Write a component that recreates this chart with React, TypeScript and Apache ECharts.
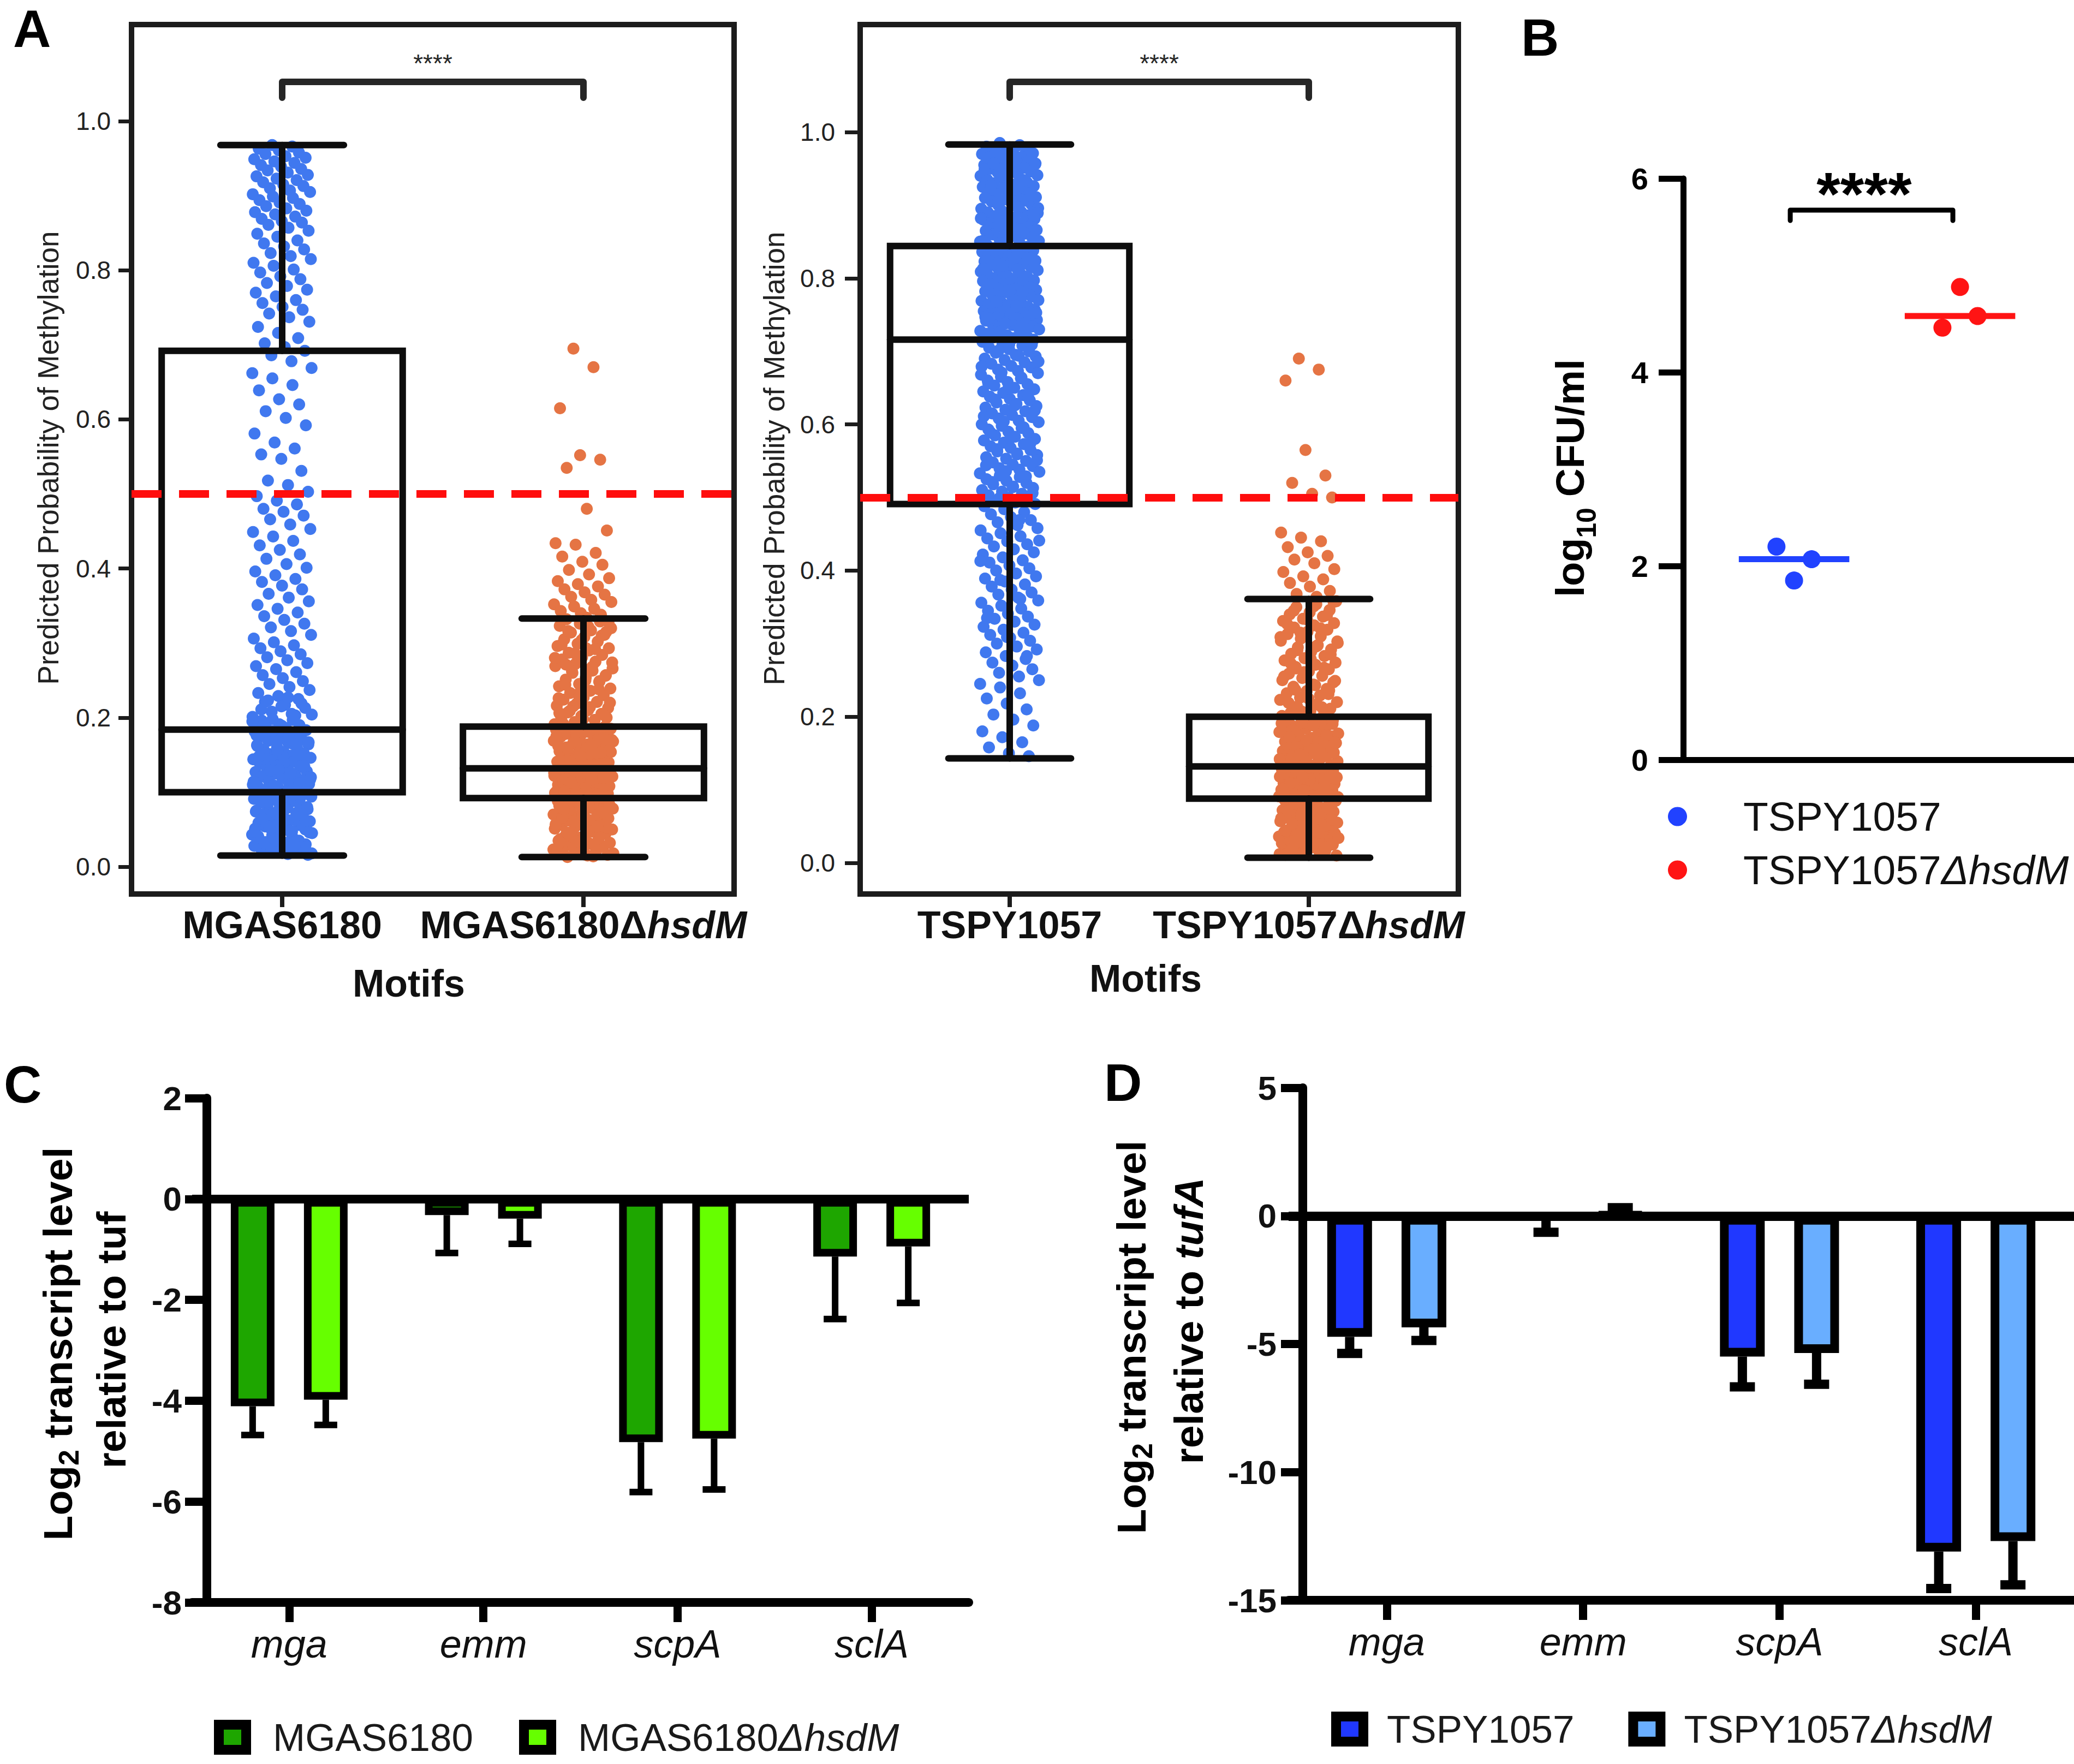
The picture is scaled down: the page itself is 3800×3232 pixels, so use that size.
import React, { useEffect, useRef } from "react";
import * as echarts from "echarts";

// ================= DATA =================
// ---- Panel A : predicted probability of methylation ----
const motifsMGAS = ["MGAS6180", "MGAS6180ΔhsdM"];
const motifsTSPY = ["TSPY1057", "TSPY1057ΔhsdM"];
const probTicks = [0, 0.2, 0.4, 0.6, 0.8, 1.0];
const methylThreshold = 0.5;
const sigA = "****";
// box statistics per motif: [lower whisker, Q1, median, Q3, upper whisker]
const boxMGAS = [
  [0.015, 0.1, 0.184, 0.692, 0.968],
  [0.013, 0.092, 0.132, 0.188, 0.333],
];
const boxTSPY = [
  [0.143, 0.491, 0.716, 0.844, 0.983],
  [0.007, 0.088, 0.132, 0.2, 0.361],
];
// individual motif probabilities, in thousandths
const probMGAS6180 = [
  968, 966, 963, 961, 958, 956, 953, 951, 949, 946, 944, 941, 939, 936, 934, 931, 928, 926, 923, 921, 918, 915, 913, 910, 907, 905, 902, 899, 897, 894, 891, 889, 886, 883, 880, 878, 875, 872, 869, 866, 864, 861,
  857, 853, 849, 845, 840, 836, 832, 828, 823, 819, 815, 810, 806, 801, 797, 792, 788, 783, 779, 774, 770, 765, 760, 756, 751, 747, 742, 737,
  731, 724, 716, 709, 702, 697, 692, 686, 678, 669, 662, 655, 646, 639, 627, 620, 611, 602, 592, 581, 569, 561, 553, 547, 531, 518, 512, 503,
  497, 491, 486, 480, 476, 471, 466, 459, 453, 449, 443, 437, 431, 425, 419, 413, 406, 401, 396, 391, 386,
  382, 377, 372, 366, 361, 356, 351, 346, 341, 336, 331, 326, 321, 316, 311, 306, 301, 297, 293, 289, 285, 281, 277, 273, 269, 265, 261, 257, 253, 249, 245, 241, 237, 233, 229, 225, 221, 217, 213,
  208, 205, 204, 201, 198, 197, 193, 191, 190, 187, 186, 183, 181, 178, 177, 175, 172, 171, 169, 166, 164, 163, 160, 158, 157, 154, 152, 151, 149, 146, 144, 143, 141, 138, 137, 134, 133, 131, 128, 127, 125, 122, 121, 119, 116, 115, 113, 111, 108, 107, 104, 103, 101, 99, 97, 95, 94, 91, 90, 88, 86, 84, 82, 81, 79, 77, 75, 73, 72, 70, 68, 66, 65, 62, 61, 59, 57, 56, 54, 52, 50, 49, 47, 45, 43, 42, 40, 38, 37, 35, 33, 32, 30, 28, 27, 25, 24, 22, 21, 19, 17, 16,
  176, 168, 161, 153, 147, 139, 132, 124, 117, 110, 102, 96, 89, 83, 76, 69, 63, 58, 51, 44,
  203, 196, 189, 184, 179, 174, 167, 162, 156, 150, 145, 140, 135, 129, 126, 120, 114, 109, 105, 100, 98, 93, 87, 85, 80, 74, 71, 67, 64, 60, 55, 53, 48, 46, 41, 39, 34, 31, 29, 26, 23, 20, 18, 195, 182, 165, 148, 130, 112, 92, 78, 62, 47, 36, 29, 211, 215, 219, 223, 227,
];
const probMGAS6180hsdM = [
  695, 670, 615, 552, 546, 535, 480, 451, 434, 432, 421, 416, 409, 405, 398, 392, 387, 383, 379, 376, 372, 368, 365, 362, 358, 355, 352, 349, 346, 343, 340, 338,
  13, 15, 16, 19, 20, 22, 24, 25, 27, 30, 31, 32, 35, 36, 38, 41, 42, 44, 45, 47, 50, 51, 53, 55, 56, 58, 60, 62, 63, 65, 67, 68, 71, 72, 74, 75, 77, 79, 80, 82, 83, 85, 86, 87, 88, 89, 84, 78, 70, 59, 48, 37,
  90, 92, 93, 95, 96, 97, 99, 100, 102, 103, 104, 106, 107, 108, 110, 111, 113, 114, 115, 117, 118, 119, 121, 122, 124, 125, 126, 128, 129, 91, 94, 98, 101, 105, 109, 112, 116, 120, 123, 127, 130, 96, 103, 111, 118, 125, 92, 107, 114, 121, 99, 128,
  131, 132, 134, 135, 137, 138, 140, 141, 143, 144, 146, 147, 149, 150, 152, 154, 155, 157, 158, 160, 161, 163, 165, 166, 168, 169, 171, 173, 174, 176, 177, 179, 181, 182, 184, 186, 187, 189, 133, 139, 145, 151, 156, 162, 167, 172, 178, 183, 188, 136, 153, 170,
  191, 194, 197, 199, 202, 205, 207, 210, 213, 216, 219, 221, 224, 227, 230, 233, 236, 239, 242, 245, 248, 251, 254, 257, 260, 263, 266, 269, 272, 275, 278, 281, 284, 287, 290, 293, 296, 299, 302, 305, 308, 311, 314, 317, 320, 323, 326, 329, 332, 334, 200, 215,
  14, 18, 23, 26, 29, 33, 39, 43, 46, 49, 52, 57, 61, 64, 66, 69, 73, 76, 81, 84, 88, 94, 97, 101, 105, 109, 113, 117, 121, 126, 131, 136, 142, 148, 153, 159, 164, 170, 175, 180, 185, 192, 198, 204, 209, 214, 220, 226, 232, 238, 244, 250, 256, 262, 268, 274, 280, 286, 292, 298, 304, 310, 316, 322, 328, 21, 34, 54, 77, 98, 119, 141, 163, 185, 206, 228, 249, 271, 293, 315,
];
const probTSPY1057 = [
  985, 982, 980, 978, 977, 975, 973, 971, 970, 968, 966, 965, 963, 961, 960, 958, 956, 955, 953, 951, 950, 948, 946, 945, 943, 941, 940, 938, 936, 935, 933, 931, 930, 928, 926, 925, 923, 921, 920, 918, 916, 915, 913, 911, 910, 908, 906, 905, 903, 901, 900, 898, 896, 895, 893, 891, 890, 888, 886, 885, 883, 881, 880, 878, 876, 875, 873, 871, 870, 868, 866, 865, 863, 861, 860, 858, 856, 855, 853, 851, 850, 848, 847, 846,
  844, 842, 841, 839, 838, 836, 835, 833, 832, 830, 829, 827, 826, 824, 823, 821, 820, 818, 817, 815, 814, 812, 811, 809, 808, 806, 805, 803, 802, 800, 799, 797, 796, 794, 793, 791, 790, 788, 787, 785, 784, 782, 781, 779, 778, 776, 775, 773, 772, 770, 769, 767, 766, 764, 763, 761, 760, 758, 757, 755, 754, 752, 751, 749, 748, 746, 745, 743, 742, 740, 739, 737, 736, 734, 733, 731, 730, 728, 727, 725, 724, 722, 721, 719, 718, 716,
  713, 710, 708, 705, 703, 700, 698, 695, 693, 690, 688, 685, 683, 680, 678, 675, 673, 670, 668, 665, 663, 660, 658, 655, 653, 650, 648, 645, 643, 640, 638, 635, 633, 630, 628, 625, 623, 620, 618, 615, 613, 610, 608, 605, 603, 600, 598, 595, 593, 590, 588, 585, 583, 580, 578, 575, 573, 570, 568, 565, 563, 560, 558, 555, 553, 550, 548, 545, 543, 540, 538, 535, 533, 530, 528, 525, 523, 520, 518, 515, 513, 510, 508, 505, 503, 500, 498, 495, 493, 491,
  488, 484, 480, 477, 473, 469, 466, 462, 458, 455, 451, 447, 444, 440, 436, 433, 429, 425, 422, 418, 414, 411, 407, 403, 400, 396, 392, 389, 385, 381, 378, 374, 370, 367, 363, 359, 356, 352, 348, 345, 341, 337, 334, 330, 326, 323, 319, 315, 312, 308, 304, 300, 296, 292, 288, 283, 279, 274, 270, 265, 260, 255, 250, 245, 240, 232, 225, 218, 210, 203, 196, 188, 180, 172, 165, 158, 150, 146,
  972, 964, 957, 949, 942, 934, 927, 919, 912, 904, 897, 889, 882, 874, 867, 859, 852, 843, 837, 828, 822, 813, 807, 798, 792, 783, 777, 768, 762, 753, 747, 738, 732, 723, 717, 709, 701, 694, 686, 679, 671, 664, 656, 649, 641, 634, 626, 619, 611, 604, 596, 589, 581, 574, 566, 559, 551, 544, 536, 529, 521, 514, 506, 499, 469, 441, 413, 387, 361, 335, 309, 283, 957, 921, 886, 851, 817, 781, 745, 709,
];
const probTSPY1057hsdM = [
  690, 675, 660, 565, 530, 520, 505, 500, 452, 445, 440, 432, 425, 420, 415, 410, 402, 398, 392, 388, 383, 378, 372, 368, 364,
  10, 12, 13, 15, 17, 18, 20, 22, 23, 25, 27, 28, 30, 32, 33, 35, 37, 38, 40, 42, 43, 45, 47, 48, 50, 52, 53, 55, 57, 58, 60, 62, 63, 65, 67, 68, 70, 72, 73, 75, 77, 78, 80, 82, 83, 85, 86, 87, 24, 46, 64, 79,
  88, 89, 90, 91, 92, 93, 94, 95, 96, 97, 98, 99, 100, 101, 102, 103, 104, 105, 106, 107, 108, 109, 110, 111, 112, 113, 114, 115, 116, 117, 118, 119, 120, 121, 122, 123, 124, 125, 126, 127, 128, 129, 130, 131, 93, 100, 108, 115, 122, 96, 111, 126,
  133, 134, 136, 137, 139, 140, 141, 143, 144, 146, 147, 149, 150, 151, 153, 154, 156, 157, 159, 160, 161, 163, 164, 166, 167, 169, 170, 171, 173, 174, 176, 177, 179, 180, 181, 183, 184, 186, 187, 189, 190, 191, 193, 194, 196, 197, 199, 138, 152, 165, 178, 192,
  202, 205, 208, 211, 214, 217, 220, 223, 226, 229, 232, 235, 238, 241, 244, 247, 250, 253, 256, 259, 262, 265, 268, 271, 274, 277, 280, 283, 286, 289, 292, 295, 298, 301, 304, 307, 310, 313, 316, 319, 322, 325, 328, 331, 334, 337, 340, 343, 346, 350, 354, 358,
  11, 14, 16, 19, 21, 26, 29, 31, 34, 36, 39, 41, 44, 49, 51, 54, 56, 59, 61, 66, 69, 71, 74, 76, 81, 84, 89, 94, 99, 104, 109, 114, 119, 124, 129, 135, 142, 148, 155, 162, 168, 175, 182, 188, 195, 201, 207, 213, 219, 225, 231, 237, 243, 249, 255, 261, 267, 273, 279, 285, 291, 297, 303, 309, 315, 321, 327, 333, 339, 345, 351, 357, 101, 117, 145, 172, 206, 236, 266, 296,
];

// ---- Panel B : log10 CFU/ml ----
const strainsB = ["TSPY1057", "TSPY1057ΔhsdM"];
const cfuTSPY1057 = [2.2, 2.07, 1.85];
const cfuTSPY1057hsdM = [4.88, 4.58, 4.46];
const sigB = "****";

// ---- Panel C : MGAS6180 transcripts ----
const genes = ["mga", "emm", "scpA", "sclA"];
const mgasWT = [-4.11, -0.32, -4.82, -1.14];
const mgasWTerr = [0.57, 0.75, 0.99, 1.24];
const mgasMut = [-3.98, -0.39, -4.75, -0.94];
const mgasMutErr = [0.5, 0.5, 1.01, 1.12];

// ---- Panel D : TSPY1057 transcripts ----
const tspyWT = [-4.72, -0.05, -5.49, -13.1];
const tspyWTerr = [0.65, 0.59, 1.18, 1.44];
const tspyMut = [-4.35, 0.05, -5.35, -12.69];
const tspyMutErr = [0.51, 0.27, 1.22, 1.71];

// ================= STYLE / LAYOUT =================
const FONT = "'Liberation Sans', Arial, Helvetica, sans-serif";
const BLUE_A = "#4078ef";
const ORANGE_A = "#e57444";
const BLUE_B = "#2142ff";
const RED_B = "#ff1414";
const GREEN_DARK = "#1ea600";
const GREEN_LIGHT = "#66ff00";
const BLUE_DARK = "#2038ff";
const BLUE_LIGHT = "#69aeff";
const JITTER = 0.1; // half-width of jitter, in category units
const DOT = 22;
const BOX_W = 0.8;
const CAP_W = 0.41;
const B_POS = [0.668, 1.668];
const B_SPREAD = [
  [-0.106, 0.106, 0],
  [0, 0.106, -0.106],
];
const B_MEDIAN_HALF = 0.333;

// low-discrepancy horizontal spread for the strip plots (layout only)
const spread3 = (n: number) => {
  let f = 1, r = 0, i = n;
  while (i > 0) {
    f /= 3;
    r += f * (i % 3);
    i = Math.floor(i / 3);
  }
  return r;
};
const jittered = (vals: number[], cx: number) =>
  vals.map((v, i) => [cx + (spread3(i + 1) - 0.5) * 2 * JITTER, v / 1000]);

const median = (a: number[]) => {
  const s = [...a].sort((x, y) => x - y);
  return s[Math.floor(s.length / 2)];
};

const richStrain = (s: string) => s.replace("ΔhsdM", "{i|ΔhsdM}");

let measureCtx: CanvasRenderingContext2D | null = null;
const measure = (text: string, font: string) => {
  if (!measureCtx) measureCtx = document.createElement("canvas").getContext("2d");
  measureCtx!.font = font;
  return measureCtx!.measureText(text).width;
};

type Seg = { text: string; size: number; italic?: boolean; dx?: number; gap?: boolean };
// vertical (bottom-to-top) bold label assembled from segments (for subscripts / italics)
const vLabel = (cx: number, cy: number, segs: Seg[]) => {
  const fontOf = (s: Seg) => `${s.italic ? "italic " : ""}bold ${s.size}px ${FONT}`;
  const widths = segs.map((s) => measure(s.text, fontOf(s)));
  const gaps = segs.map((s) => (s.gap ? measure(" ", fontOf(s)) : 0));
  const L = widths.reduce((a, b) => a + b, 0) + gaps.reduce((a, b) => a + b, 0);
  let pos = 0;
  const els: any[] = [];
  segs.forEach((s, i) => {
    pos += gaps[i];
    els.push({
      type: "text",
      x: cx + (s.dx || 0),
      y: cy + L / 2 - pos,
      rotation: Math.PI / 2,
      silent: true,
      style: {
        text: s.text,
        fontSize: s.size,
        fontWeight: "bold",
        fontStyle: s.italic ? "italic" : "normal",
        fontFamily: FONT,
        fill: "#000",
        align: "left",
        verticalAlign: "middle",
      },
    });
    pos += widths[i];
  });
  return els;
};

const boxRender = (params: any, api: any) => {
  const x = api.value(0);
  const lo = api.value(1), q1 = api.value(2), md = api.value(3), q3 = api.value(4), hi = api.value(5);
  const cx = api.coord([x, md])[0];
  const y = (v: number) => api.coord([x, v])[1];
  const halfW = api.size([BOX_W, 0])[0] / 2;
  const capHalf = api.size([CAP_W, 0])[0] / 2;
  const st = { stroke: "#0d0d0d", lineWidth: 12, fill: "none", lineCap: "round" };
  return {
    type: "group",
    children: [
      { type: "line", shape: { x1: cx, y1: y(hi), x2: cx, y2: y(q3) }, style: st },
      { type: "line", shape: { x1: cx, y1: y(q1), x2: cx, y2: y(lo) }, style: st },
      { type: "line", shape: { x1: cx - capHalf, y1: y(hi), x2: cx + capHalf, y2: y(hi) }, style: st },
      { type: "line", shape: { x1: cx - capHalf, y1: y(lo), x2: cx + capHalf, y2: y(lo) }, style: st },
      { type: "rect", shape: { x: cx - halfW, y: y(q3), width: 2 * halfW, height: y(q1) - y(q3) }, style: { stroke: "#0d0d0d", lineWidth: 12, fill: "none" } },
      { type: "line", shape: { x1: cx - halfW, y1: y(md), x2: cx + halfW, y2: y(md) }, style: st },
    ],
  };
};

// data item: [x1, x2, bar level, tip level, text level, text x]
const bracketRender = (text: string, fontSize: number, lw: number, color: string, bold: boolean) => (params: any, api: any) => {
  const x1 = api.value(0), x2 = api.value(1), yb = api.value(2), ye = api.value(3), yt = api.value(4), xt = api.value(5);
  const a = api.coord([x1, ye]), b = api.coord([x1, yb]), c = api.coord([x2, yb]), d = api.coord([x2, ye]);
  const t = api.coord([xt, yt]);
  return {
    type: "group",
    children: [
      { type: "polyline", shape: { points: [a, b, c, d] }, style: { stroke: color, lineWidth: lw, fill: "none", lineJoin: "round", lineCap: "round" } },
      { type: "text", x: t[0], y: t[1], style: { text, fontSize, fontFamily: FONT, fontWeight: bold ? "bold" : "normal", fill: color, align: "center", verticalAlign: "middle" } },
    ],
  };
};

const medianRender = (color: string) => (params: any, api: any) => {
  const x = api.value(0), m = api.value(1);
  const p1 = api.coord([x - B_MEDIAN_HALF, m]);
  const p2 = api.coord([x + B_MEDIAN_HALF, m]);
  return { type: "line", shape: { x1: p1[0], y1: p1[1], x2: p2[0], y2: p2[1] }, style: { stroke: color, lineWidth: 11 } };
};

const errRender = (offset: number, capHalf: number, lw: number) => (params: any, api: any) => {
  const cat = api.value(0), v = api.value(1), e = api.value(2);
  const end = v + (v < 0 ? -e : e);
  const p0 = api.coord([cat, v]);
  const p1 = api.coord([cat, end]);
  const x = p0[0] + offset;
  const st = { stroke: "#000", lineWidth: lw };
  return {
    type: "group",
    children: [
      { type: "line", shape: { x1: x, y1: p0[1], x2: x, y2: p1[1] }, style: st },
      { type: "line", shape: { x1: x - capHalf, y1: p1[1], x2: x + capHalf, y2: p1[1] }, style: st },
    ],
  };
};

const aXAxis = (gridIndex: number, cats: string[]) => ({
  type: "value",
  gridIndex,
  min: -0.5,
  max: 1.5,
  axisLine: { show: false, onZero: false },
  splitLine: { show: false },
  axisTick: { show: true, customValues: [0, 1], length: 24, lineStyle: { color: "#1c1c1c", width: 8 } },
  axisLabel: {
    show: true,
    customValues: [0, 1],
    margin: 22,
    fontSize: 70,
    fontWeight: "bold",
    fontFamily: FONT,
    color: "#111",
    formatter: (v: number) => cats[Math.round(v)].replace("ΔhsdM", "Δ{i|hsdM}"),
    rich: { i: { fontSize: 70, fontWeight: "bold", fontStyle: "italic", fontFamily: FONT, color: "#111" } },
  },
});

const aYAxis = (gridIndex: number, min: number, max: number, tickLen: number, margin: number) => ({
  type: "value",
  gridIndex,
  min,
  max,
  axisLine: { show: false, onZero: false },
  splitLine: { show: false },
  axisTick: { show: true, customValues: probTicks, length: tickLen, lineStyle: { color: "#1c1c1c", width: 7 } },
  axisLabel: { show: true, customValues: probTicks, margin, fontSize: 46, fontFamily: FONT, color: "#222", formatter: (v: number) => v.toFixed(1) },
});

const barXAxis = (gridIndex: number) => ({
  type: "category",
  gridIndex,
  data: genes,
  axisLine: { onZero: false, lineStyle: { color: "#000", width: 16 } },
  axisTick: { show: true, alignWithLabel: true, length: 36, lineStyle: { color: "#000", width: 15 } },
  axisLabel: { margin: 40, fontSize: 72, fontStyle: "italic", fontFamily: FONT, color: "#111" },
  splitLine: { show: false },
});

const barYAxis = (gridIndex: number, min: number, max: number, interval: number, offset: number, margin: number) => ({
  type: "value",
  gridIndex,
  min,
  max,
  interval,
  offset,
  axisLine: { show: true, onZero: false, lineStyle: { color: "#000", width: 16 } },
  axisTick: { show: true, length: 40, lineStyle: { color: "#000", width: 15 } },
  axisLabel: { margin, fontSize: 62, fontWeight: "bold", fontFamily: FONT, color: "#111" },
  splitLine: { show: false },
});

const zeroLine = {
  silent: true,
  symbol: ["none", "none"],
  label: { show: false },
  lineStyle: { color: "#000", width: 16, type: "solid", opacity: 1 },
  data: [{ yAxis: 0 }],
};

const thresholdLine = {
  silent: true,
  symbol: ["none", "none"],
  label: { show: false },
  lineStyle: { color: "#ff0d0d", width: 14, type: [55, 32], opacity: 1 },
  data: [{ yAxis: methylThreshold }],
};

const txt = (text: string, x: number, y: number, fontSize: number, weight: string, extra: any = {}) => ({
  type: "text",
  x,
  y,
  silent: true,
  ...extra,
  style: { text, fontSize, fontWeight: weight, fontFamily: FONT, fill: "#000", align: "center", verticalAlign: "middle", ...(extra.style || {}) },
});

const legendText = (size: number, pad: number, color: string) => ({
  fontSize: size,
  fontFamily: FONT,
  color,
  lineHeight: size + 1,
  padding: [0, 0, 0, pad],
  rich: { i: { fontSize: size, fontStyle: "italic", fontFamily: FONT, color, lineHeight: size + 1 } },
});

const buildOption = () => {
  const gridFrame = { show: true, borderColor: "#1c1c1c", borderWidth: 10, backgroundColor: "transparent" };
  return {
    animation: false,
    backgroundColor: "#ffffff",
    grid: [
      { left: 241, top: 45, width: 1104, height: 1593, ...gridFrame },
      { left: 1576, top: 45, width: 1096, height: 1593, ...gridFrame },
      { left: 3084, top: 327, width: 716, height: 1065 },
      { left: 352, top: 2012, width: 1423, height: 924 },
      { left: 2361, top: 1993, width: 1455, height: 939 },
    ],
    xAxis: [
      aXAxis(0, motifsMGAS),
      aXAxis(1, motifsTSPY),
      {
        type: "value",
        gridIndex: 2,
        min: 0,
        max: 2.355,
        axisLine: { show: true, onZero: false, lineStyle: { color: "#000", width: 11 } },
        axisTick: { show: false },
        axisLabel: { show: false },
        splitLine: { show: false },
      },
      barXAxis(3),
      barXAxis(4),
    ],
    yAxis: [
      aYAxis(0, -0.0366, 1.1296, 24, 38),
      aYAxis(1, -0.0426, 1.1471, 28, 46),
      {
        type: "value",
        gridIndex: 2,
        min: 0,
        max: 6,
        interval: 2,
        axisLine: { show: true, onZero: false, lineStyle: { color: "#000", width: 11 } },
        axisTick: { show: true, length: 45, lineStyle: { color: "#000", width: 11 } },
        axisLabel: { margin: 64, fontSize: 56, fontWeight: "bold", fontFamily: FONT, color: "#000" },
        splitLine: { show: false },
      },
      barYAxis(3, -8, 2, 2, -27, 46),
      barYAxis(4, -15, 5, 5, -26, 48),
    ],
    legend: [
      {
        data: strainsB.map((s) => "cfu:" + s),
        orient: "vertical",
        left: 3056,
        top: 1458,
        padding: 0,
        icon: "circle",
        itemWidth: 35,
        itemHeight: 35,
        itemGap: 22,
        selectedMode: false,
        itemStyle: { borderWidth: 0 },
        formatter: (n: string) => richStrain(n.replace("cfu:", "")),
        textStyle: legendText(75, 98, "#111"),
      },
      {
        data: ["MGAS6180", "MGAS6180ΔhsdM"],
        orient: "horizontal",
        left: 392,
        top: 3147,
        padding: 0,
        icon: "rect",
        itemWidth: 50,
        itemHeight: 46,
        itemGap: 84,
        selectedMode: false,
        itemStyle: { borderColor: "#000", borderWidth: 18 },
        formatter: (n: string) => richStrain(n),
        textStyle: legendText(71, 44, "#1a1a1a"),
      },
      {
        data: ["TSPY1057", "TSPY1057ΔhsdM"],
        orient: "horizontal",
        left: 2439,
        top: 3132,
        padding: 0,
        icon: "rect",
        itemWidth: 50,
        itemHeight: 46,
        itemGap: 99,
        selectedMode: false,
        itemStyle: { borderColor: "#000", borderWidth: 18 },
        formatter: (n: string) => richStrain(n),
        textStyle: legendText(71, 38, "#1a1a1a"),
      },
    ],
    graphic: [
      txt("A", 24, 52, 96, "bold", { style: { align: "left" } }),
      txt("B", 2787, 68, 96, "bold", { style: { align: "left" } }),
      txt("C", 7, 1986, 96, "bold", { style: { align: "left" } }),
      txt("D", 2023, 1983, 96, "bold", { style: { align: "left" } }),
      txt("Predicted Probability of Methylation", 88, 839, 53, "normal", { rotation: Math.PI / 2, style: { fill: "#222" } }),
      txt("Predicted Probability of Methylation", 1418, 840, 53, "normal", { rotation: Math.PI / 2, style: { fill: "#222" } }),
      txt("Motifs", 749, 1802, 70, "bold", { style: { fill: "#111" } }),
      txt("Motifs", 2099, 1793, 70, "bold", { style: { fill: "#111" } }),
      ...vLabel(2877, 876, [
        { text: "log", size: 72 },
        { text: "10", size: 50, dx: 30 },
        { text: "CFU/ml", size: 72, gap: true },
      ]),
      ...vLabel(106, 2462, [
        { text: "Log", size: 75 },
        { text: "2", size: 52, dx: 20 },
        { text: "transcript level", size: 75, gap: true },
      ]),
      ...vLabel(204, 2455, [{ text: "relative to tuf", size: 75 }]),
      ...vLabel(2073, 2450, [
        { text: "Log", size: 75 },
        { text: "2", size: 52, dx: 20 },
        { text: "transcript level", size: 75, gap: true },
      ]),
      ...vLabel(2178, 2420, [
        { text: "relative to", size: 75 },
        { text: "tufA", size: 75, italic: true, gap: true },
      ]),
    ],
    series: [
      // ---- A left ----
      { type: "scatter", name: "A:MGAS6180", xAxisIndex: 0, yAxisIndex: 0, data: jittered(probMGAS6180, 0), symbolSize: DOT, itemStyle: { color: BLUE_A, opacity: 1 }, z: 2, silent: true },
      { type: "scatter", name: "A:MGAS6180ΔhsdM", xAxisIndex: 0, yAxisIndex: 0, data: jittered(probMGAS6180hsdM, 1), symbolSize: DOT, itemStyle: { color: ORANGE_A, opacity: 1 }, z: 2, silent: true },
      { type: "custom", name: "A:boxMGAS", xAxisIndex: 0, yAxisIndex: 0, renderItem: boxRender, data: boxMGAS.map((b, i) => [i, ...b]), encode: { x: 0, y: [1, 2, 3, 4, 5] }, z: 4, silent: true, markLine: thresholdLine },
      { type: "custom", name: "A:sigMGAS", xAxisIndex: 0, yAxisIndex: 0, renderItem: bracketRender(sigA, 46, 12, "#262626", false), data: [[0, 1, 1.0527, 1.0315, 1.0776, 0.5]], encode: { x: [0, 1], y: [2, 3, 4] }, z: 5, silent: true },
      // ---- A right ----
      { type: "scatter", name: "A:TSPY1057", xAxisIndex: 1, yAxisIndex: 1, data: jittered(probTSPY1057, 0), symbolSize: DOT, itemStyle: { color: BLUE_A, opacity: 1 }, z: 2, silent: true },
      { type: "scatter", name: "A:TSPY1057ΔhsdM", xAxisIndex: 1, yAxisIndex: 1, data: jittered(probTSPY1057hsdM, 1), symbolSize: DOT, itemStyle: { color: ORANGE_A, opacity: 1 }, z: 2, silent: true },
      { type: "custom", name: "A:boxTSPY", xAxisIndex: 1, yAxisIndex: 1, renderItem: boxRender, data: boxTSPY.map((b, i) => [i, ...b]), encode: { x: 0, y: [1, 2, 3, 4, 5] }, z: 4, silent: true, markLine: thresholdLine },
      { type: "custom", name: "A:sigTSPY", xAxisIndex: 1, yAxisIndex: 1, renderItem: bracketRender(sigA, 46, 12, "#262626", false), data: [[0, 1, 1.0687, 1.047, 1.094, 0.5]], encode: { x: [0, 1], y: [2, 3, 4] }, z: 5, silent: true },
      // ---- B ----
      { type: "scatter", name: "cfu:" + strainsB[0], xAxisIndex: 2, yAxisIndex: 2, data: cfuTSPY1057.map((v, i) => [B_POS[0] + B_SPREAD[0][i], v]), symbolSize: 33, itemStyle: { color: BLUE_B, opacity: 1 }, z: 3, silent: true },
      { type: "scatter", name: "cfu:" + strainsB[1], xAxisIndex: 2, yAxisIndex: 2, data: cfuTSPY1057hsdM.map((v, i) => [B_POS[1] + B_SPREAD[1][i], v]), symbolSize: 33, itemStyle: { color: RED_B, opacity: 1 }, z: 3, silent: true },
      { type: "custom", name: "B:med1", xAxisIndex: 2, yAxisIndex: 2, renderItem: medianRender(BLUE_B), data: [[B_POS[0], median(cfuTSPY1057)]], encode: { x: 0, y: 1 }, z: 2, silent: true },
      { type: "custom", name: "B:med2", xAxisIndex: 2, yAxisIndex: 2, renderItem: medianRender(RED_B), data: [[B_POS[1], median(cfuTSPY1057hsdM)]], encode: { x: 0, y: 1 }, z: 2, silent: true },
      { type: "custom", name: "B:sig", xAxisIndex: 2, yAxisIndex: 2, renderItem: bracketRender(sigB, 112, 9, "#000", true), data: [[0.645, 1.625, 5.673, 5.566, 5.84, 1.09]], encode: { x: [0, 1], y: [2, 3, 4] }, z: 5, silent: true },
      // ---- C ----
      { type: "bar", name: "MGAS6180", xAxisIndex: 3, yAxisIndex: 3, data: mgasWT, barWidth: 80, barGap: "67.5%", itemStyle: { color: GREEN_DARK, borderColor: "#000", borderWidth: 14 }, z: 2, silent: true, markLine: zeroLine },
      { type: "bar", name: "MGAS6180ΔhsdM", xAxisIndex: 3, yAxisIndex: 3, data: mgasMut, barWidth: 80, barGap: "67.5%", itemStyle: { color: GREEN_LIGHT, borderColor: "#000", borderWidth: 14 }, z: 2, silent: true },
      { type: "custom", name: "C:err1", xAxisIndex: 3, yAxisIndex: 3, renderItem: errRender(-67, 21, 12), data: mgasWT.map((v, i) => [i, v, mgasWTerr[i]]), encode: { x: 0, y: 1 }, z: 3, silent: true },
      { type: "custom", name: "C:err2", xAxisIndex: 3, yAxisIndex: 3, renderItem: errRender(67, 21, 12), data: mgasMut.map((v, i) => [i, v, mgasMutErr[i]]), encode: { x: 0, y: 1 }, z: 3, silent: true },
      // ---- D ----
      { type: "bar", name: "TSPY1057", xAxisIndex: 4, yAxisIndex: 4, data: tspyWT, barWidth: 82, barGap: "66%", itemStyle: { color: BLUE_DARK, borderColor: "#000", borderWidth: 16 }, z: 2, silent: true, markLine: { ...zeroLine, lineStyle: { ...zeroLine.lineStyle, width: 17 } } },
      { type: "bar", name: "TSPY1057ΔhsdM", xAxisIndex: 4, yAxisIndex: 4, data: tspyMut, barWidth: 82, barGap: "66%", itemStyle: { color: BLUE_LIGHT, borderColor: "#000", borderWidth: 16 }, z: 2, silent: true },
      { type: "custom", name: "D:err1", xAxisIndex: 4, yAxisIndex: 4, renderItem: errRender(-68, 23, 17), data: tspyWT.map((v, i) => [i, v, tspyWTerr[i]]), encode: { x: 0, y: 1 }, z: 3, silent: true },
      { type: "custom", name: "D:err2", xAxisIndex: 4, yAxisIndex: 4, renderItem: errRender(68, 23, 17), data: tspyMut.map((v, i) => [i, v, tspyMutErr[i]]), encode: { x: 0, y: 1 }, z: 3, silent: true },
    ],
  };
};

export default function App() {
  const ref = useRef<HTMLDivElement>(null);
  useEffect(() => {
    if (!ref.current) return;
    const chart = echarts.init(ref.current, null, { renderer: "svg", width: 3800, height: 3232 });
    chart.setOption(buildOption() as any);
    return () => chart.dispose();
  }, []);
  return <div ref={ref} style={{ position: "absolute", left: 0, top: 0, width: 3800, height: 3232, background: "#fff" }} />;
}
